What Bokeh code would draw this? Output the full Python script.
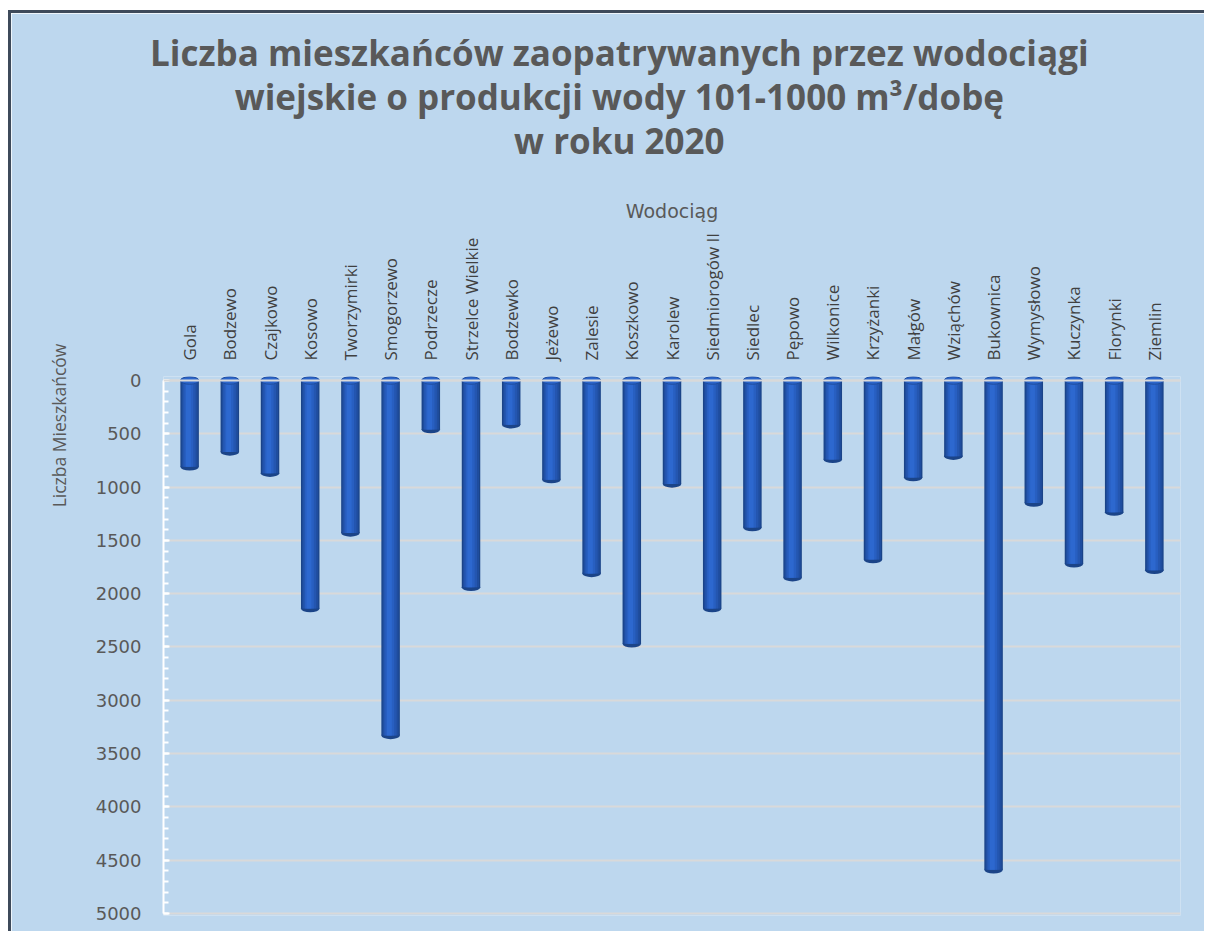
import math
from bokeh.plotting import figure
from bokeh.models import FactorRange, Range1d, FixedTicker, Label, Span, ColumnDataSource
from bokeh.transform import dodge
from bokeh.embed import file_html
from bokeh.resources import INLINE

# ---------------- data ----------------
wodociagi = ["Gola", "Bodzewo", "Czajkowo", "Kosowo", "Tworzymirki", "Smogorzewo",
             "Podrzecze", "Strzelce Wielkie", "Bodzewko", "Jeżewo", "Zalesie", "Koszkowo",
             "Karolew", "Siedmiorogów II", "Siedlec", "Pępowo", "Wilkonice", "Krzyżanki",
             "Małgów", "Wziąchów", "Bukownica", "Wymysłowo", "Kuczynka", "Florynki", "Ziemlin"]
mieszkancy = [810, 670, 870, 2140, 1430, 3330,
              460, 1940, 415, 930, 1810, 2470,
              970, 2140, 1380, 1850, 740, 1680,
              910, 710, 4590, 1150, 1720, 1235, 1780]
y_ticks = [0, 500, 1000, 1500, 2000, 2500, 3000, 3500, 4000, 4500, 5000]
y_minor_ticks = list(range(0, 5001, 100))
title_lines = ["Liczba mieszkańców zaopatrywanych przez wodociągi",
               "wiejskie o produkcji wody 101-1000 m³/dobę",
               "w roku 2020"]
x_title = "Wodociąg"
y_title = "Liczba Mieszkańców"

BG = "#BDD7EE"
GRID = "#D9D9D9"
TXT = "#595959"

src = ColumnDataSource(data=dict(name=wodociagi, val=mieszkancy, zero=[0] * len(wodociagi)))

p = figure(width=1196, height=921,
           x_range=FactorRange(factors=wodociagi, range_padding=0.012),
           y_range=Range1d(5019, -37.5),
           x_axis_location="above",
           title_location=None,
           output_backend="svg", toolbar_location=None,
           min_border_left=152, min_border_right=27, min_border_top=363, min_border_bottom=19,
           background_fill_color=BG, border_fill_color=BG, outline_line_color=None)
p.styles = {"border-top": "3px solid #3E4A5A", "border-left": "3px solid #3E4A5A",
            "margin-top": "10px", "margin-left": "8px"}

# grid
ticker = FixedTicker(ticks=y_ticks, minor_ticks=y_minor_ticks)
p.xgrid.grid_line_color = None
p.ygrid.ticker = ticker
p.ygrid.grid_line_color = GRID
p.ygrid.grid_line_width = 2

# cylinder-like bars (layered shading)
layers = [(0.46, "#1B4488", 0.0), (0.40, "#1F4D9E", 0.0), (0.32, "#2456B0", -0.01),
          (0.22, "#285FC1", -0.02), (0.12, "#2D68CF", -0.03)]
p.ellipse(x="name", y="val", width=0.46, height=70, source=src,
          fill_color="#1B4488", line_color=None)
for w, c, off in layers:
    p.vbar(x=dodge("name", off, range=p.x_range), top="zero", bottom="val", width=w,
           source=src, fill_color=c, line_color=None)
p.ellipse(x="name", y="zero", width=0.46, height=70, source=src,
          fill_color="#2C66CC", line_color="#1F4D9E", line_width=1)

p.add_layout(Span(location=0, dimension="width", line_color=GRID, line_width=2, level="overlay"))

# y axis
ya = p.yaxis[0]
ya.ticker = ticker
ya.bounds = (0, 5000)
ya.axis_line_color = "white"
ya.axis_line_width = 2
ya.major_tick_line_color = "white"
ya.major_tick_line_width = 2
ya.major_tick_in = 6
ya.major_tick_out = 0
ya.minor_tick_line_color = "white"
ya.minor_tick_line_width = 2
ya.minor_tick_in = 5
ya.minor_tick_out = 0
ya.major_label_text_font = "DejaVu Sans"
ya.major_label_text_font_size = "18px"
ya.major_label_text_color = TXT
ya.major_label_standoff = 22

# x axis (above)
xa = p.xaxis[0]
xa.axis_label = x_title
xa.axis_label_text_font = "DejaVu Sans"
xa.axis_label_text_font_size = "19px"
xa.axis_label_text_font_style = "normal"
xa.axis_label_text_color = TXT
xa.axis_label_standoff = 8
xa.major_label_orientation = "vertical"
xa.major_label_text_font = "Open Sans"
xa.major_label_text_font_size = "17px"
xa.major_label_text_color = "#404040"
xa.major_label_standoff = 10
xa.axis_line_color = None
xa.major_tick_line_color = None

# y axis title (placed in the left side panel so that it is not clipped to the frame)
p.add_layout(Label(x=-2.74, y=422, text=y_title,
                   angle=math.pi / 2, text_align="center", text_baseline="middle",
                   text_font="Open Sans", text_font_size="17.5px", text_color=TXT), "left")

# chart title (in the top side panel)
for line, yy in zip(title_lines, [-3080, -2667, -2254]):
    p.add_layout(Label(x=11.19, y=yy, text=line,
                       text_align="center", text_baseline="alphabetic",
                       text_font="Open Sans", text_font_size="35px", text_font_style="bold",
                       text_color=TXT), "above")

open("out.html", "w").write(file_html(p, INLINE))
